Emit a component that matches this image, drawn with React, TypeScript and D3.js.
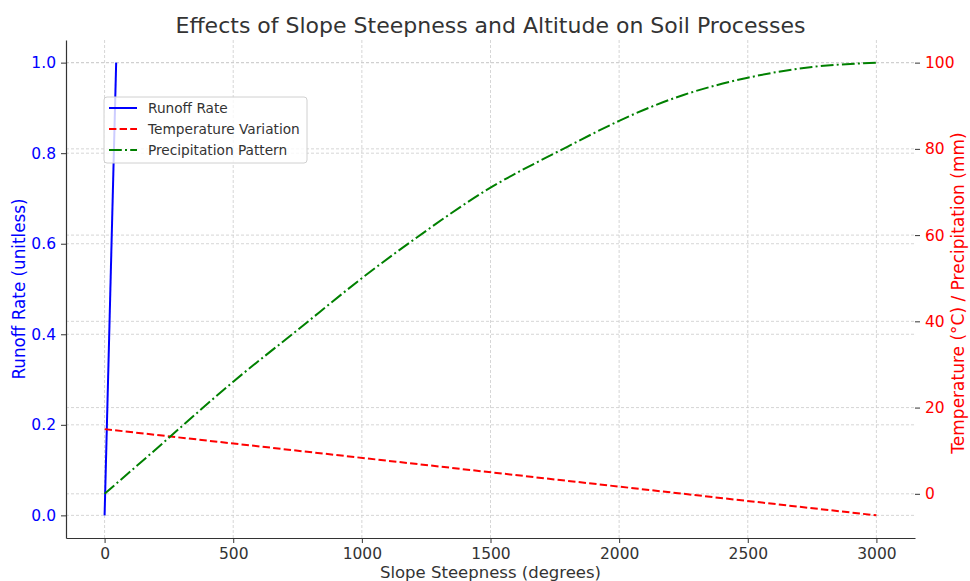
import React, { useRef, useEffect } from "react";
import * as d3 from "d3";

// Altitude / slope positions along the x axis
const runoffX = [0, 45];
const runoffRate = [0, 1];

const temperatureX = [0, 3000];
const temperature = [15, -5];

const precipX = [0, 250, 500, 750, 1000, 1250, 1500, 1750, 2000, 2250, 2500, 2750, 3000];
const precipitation = [0, 13, 26, 38, 50, 61, 71, 79, 86.5, 92.5, 96.5, 99, 100];

const xTicks = [0, 500, 1000, 1500, 2000, 2500, 3000];
const leftTicks = [0, 0.2, 0.4, 0.6, 0.8, 1.0];
const rightTicks = [0, 20, 40, 60, 80, 100];

const legendItems = [
  { label: "Runoff Rate", color: "#0000ff", dash: "none" },
  { label: "Temperature Variation", color: "#ff0000", dash: "7.4,3.2" },
  { label: "Precipitation Pattern", color: "#008000", dash: "12.8,3.2,2,3.2" },
];

const App = () => {
  const svgRef = useRef(null);

  const width = 970;
  const height = 581;
  const marginTop = 40;
  const marginRight = 55;
  const marginBottom = 43;
  const marginLeft = 66;
  const font = "DejaVu Sans, sans-serif";

  useEffect(() => {
    const svg = d3.select(svgRef.current);
    svg.selectAll("*").remove();

    const x = d3.scaleLinear().domain([-150, 3150]).range([marginLeft, width - marginRight]);
    const yLeft = d3.scaleLinear().domain([-0.05, 1.05]).range([height - marginBottom, marginTop]);
    const yRight = d3.scaleLinear().domain([-10.25, 105.25]).range([height - marginBottom, marginTop]);

    svg.append("rect").attr("width", width).attr("height", height).attr("fill", "white");

    // Grid lines
    const grid = svg.append("g")
      .attr("stroke", "#cccccc")
      .attr("stroke-width", 0.8)
      .attr("stroke-dasharray", "3,2");

    grid.selectAll(".vx").data(xTicks).join("line")
      .attr("x1", d => x(d)).attr("x2", d => x(d))
      .attr("y1", marginTop).attr("y2", height - marginBottom);

    grid.selectAll(".hl").data(leftTicks).join("line")
      .attr("x1", marginLeft).attr("x2", width - marginRight)
      .attr("y1", d => yLeft(d)).attr("y2", d => yLeft(d));

    grid.selectAll(".hr").data(rightTicks).join("line")
      .attr("x1", marginLeft).attr("x2", width - marginRight)
      .attr("y1", d => yRight(d)).attr("y2", d => yRight(d));

    // Lines
    const runoffLine = d3.line<number>().x((d, i) => x(runoffX[i])).y(d => yLeft(d));
    svg.append("path")
      .attr("d", runoffLine(runoffRate))
      .attr("fill", "none").attr("stroke", "#0000ff").attr("stroke-width", 2);

    const tempLine = d3.line<number>().x((d, i) => x(temperatureX[i])).y(d => yRight(d));
    svg.append("path")
      .attr("d", tempLine(temperature))
      .attr("fill", "none").attr("stroke", "#ff0000").attr("stroke-width", 2)
      .attr("stroke-dasharray", "7.4,3.2");

    const precipLine = d3.line<number>()
      .x((d, i) => x(precipX[i])).y(d => yRight(d))
      .curve(d3.curveNatural);
    svg.append("path")
      .attr("d", precipLine(precipitation))
      .attr("fill", "none").attr("stroke", "#008000").attr("stroke-width", 2)
      .attr("stroke-dasharray", "12.8,3.2,2,3.2");

    // Axes
    const xAxis = svg.append("g")
      .attr("transform", `translate(0,${height - marginBottom})`)
      .call(d3.axisBottom(x).tickValues(xTicks).tickFormat(d3.format("d")).tickSize(5).tickPadding(5).tickSizeOuter(0));
    xAxis.select(".domain").attr("stroke", "#333").attr("stroke-width", 1.2);
    xAxis.selectAll(".tick line").attr("stroke", "#333");
    xAxis.selectAll("text").attr("font-family", font).attr("font-size", 15.5).attr("fill", "#333");

    const leftAxis = svg.append("g")
      .attr("transform", `translate(${marginLeft},0)`)
      .call(d3.axisLeft(yLeft).tickValues(leftTicks).tickFormat(d3.format(".1f")).tickSize(5).tickPadding(5).tickSizeOuter(0));
    leftAxis.select(".domain").attr("stroke", "#333").attr("stroke-width", 1.2);
    leftAxis.selectAll(".tick line").attr("stroke", "#333");
    leftAxis.selectAll("text").attr("font-family", font).attr("font-size", 15.5).attr("fill", "#0000ff");

    const rightAxis = svg.append("g")
      .attr("transform", `translate(${width - marginRight},0)`)
      .call(d3.axisRight(yRight).tickValues(rightTicks).tickSize(5).tickPadding(5).tickSizeOuter(0));
    rightAxis.select(".domain").remove();
    rightAxis.selectAll(".tick line").attr("stroke", "#333");
    rightAxis.selectAll("text").attr("font-family", font).attr("font-size", 15.5).attr("fill", "#ff0000");

    // Titles
    svg.append("text")
      .attr("x", (marginLeft + width - marginRight) / 2).attr("y", 33)
      .attr("text-anchor", "middle")
      .attr("font-family", font).attr("font-size", 22).attr("fill", "#333")
      .text("Effects of Slope Steepness and Altitude on Soil Processes");

    svg.append("text")
      .attr("x", (marginLeft + width - marginRight) / 2).attr("y", 578)
      .attr("text-anchor", "middle")
      .attr("font-family", font).attr("font-size", 16.5).attr("fill", "#333")
      .text("Slope Steepness (degrees)");

    svg.append("text")
      .attr("transform", `translate(25,${(marginTop + height - marginBottom) / 2}) rotate(-90)`)
      .attr("text-anchor", "middle")
      .attr("font-family", font).attr("font-size", 16.8).attr("fill", "#0000ff")
      .text("Runoff Rate (unitless)");

    svg.append("text")
      .attr("transform", `translate(964,${(marginTop + height - marginBottom) / 2 + 4}) rotate(-90)`)
      .attr("text-anchor", "middle")
      .attr("font-family", font).attr("font-size", 17).attr("fill", "#ff0000")
      .text("Temperature (°C) / Precipitation (mm)");

    // Legend
    const legend = svg.append("g").attr("transform", "translate(104,97)");
    legend.append("rect")
      .attr("width", 203).attr("height", 66).attr("rx", 3)
      .attr("fill", "white").attr("fill-opacity", 0.8)
      .attr("stroke", "#d0d0d0");
    const item = legend.selectAll(".item").data(legendItems).join("g")
      .attr("transform", (d, i) => `translate(0,${11 + i * 21})`);
    item.append("line")
      .attr("x1", 5).attr("x2", 33).attr("y1", 0).attr("y2", 0)
      .attr("stroke", d => d.color).attr("stroke-width", 2)
      .attr("stroke-dasharray", d => d.dash);
    item.append("text")
      .attr("x", 44).attr("y", 0).attr("dy", "0.35em")
      .attr("font-family", font).attr("font-size", 13.7).attr("fill", "#333")
      .text(d => d.label);
  }, []);

  return (
    <svg
      ref={svgRef}
      width={width}
      height={height}
      style={{ position: "absolute", left: 0, top: 0 }}
    ></svg>
  );
};

export default App;
